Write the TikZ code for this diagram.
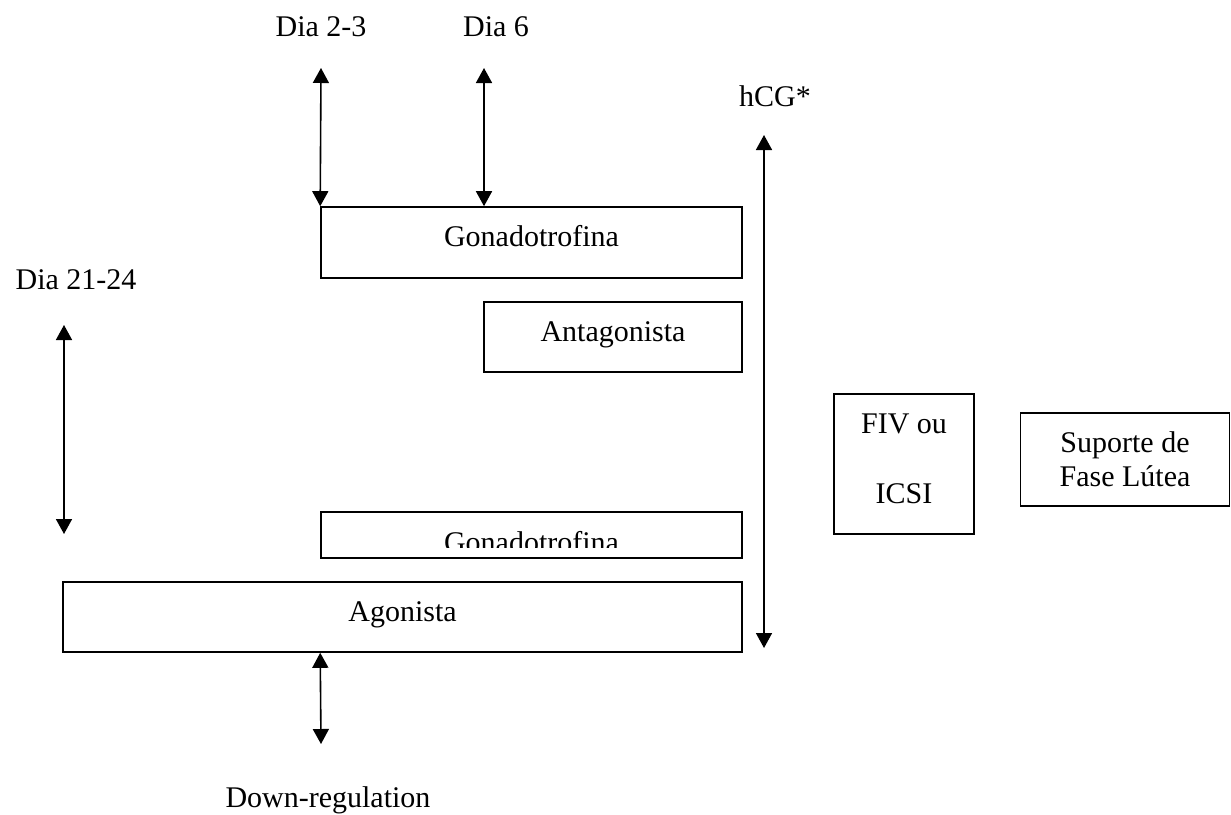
\documentclass[tikz,border=0pt]{standalone}
\usepackage{fontspec}
\setmainfont{Liberation Serif}
\usepackage{tikz}
\usetikzlibrary{positioning}
\usetikzlibrary{arrows.meta, calc}

\tikzset{
  caixa/.style={draw, line width=1.6pt, rectangle, inner sep=0pt},
  rotulo/.style={anchor=base, inner sep=0pt, font=\fontsize{30}{34.5}\selectfont},
  seta/.style={{Triangle[length=15pt,width=16pt]}-{Triangle[length=15pt,width=16pt]}, line width=1.6pt}
}

\begin{document}
\begin{tikzpicture}[x=1pt, y=-1pt]
    \useasboundingbox (0,0) rectangle (1231,814);

    % Caixas do esquema (em pixels, y para baixo)
    \node[caixa, minimum width=421pt, minimum height=71pt] (gon1) at (531.5,242.5) {};
    \node[caixa, minimum width=258pt, minimum height=70pt] (anta) at (613,337) {};
    \node[caixa, minimum width=421pt, minimum height=46pt] (gon2) at (531.5,535) {};
    \node[caixa, minimum width=679pt, minimum height=70pt] (agon) at (402.5,617) {};
    \node[caixa, minimum width=140pt, minimum height=140pt] (fiv) at (904,464) {};
    \node[caixa, minimum width=209pt, minimum height=93pt] (sup) at (1125,459.5) {};

    % Textos dentro das caixas
    \node[rotulo] (gon1txt) at ([yshift=-40pt]gon1.north) {Gonadotrofina};
    \node[rotulo] (antatxt) at ([yshift=-40pt]anta.north) {Antagonista};
    \node[rotulo] (agontxt) at ([yshift=-40pt]agon.north) {Agonista};
    \node[rotulo] (fivtxt) at ([yshift=-40pt]fiv.north) {FIV ou};
    \node[rotulo] (icsitxt) at ([yshift=-70pt]fivtxt.base) {ICSI};
    \node[rotulo] (suptxt) at ([yshift=-40pt]sup.north) {Suporte de};
    \node[rotulo] (fasetxt) at ([yshift=-34.5pt]suptxt.base) {Fase Lútea};

    % Texto cortado pela caixa baixa
    \begin{scope}
        \clip ([yshift=-9pt]gon2.north west) rectangle ([yshift=11pt]gon2.south east);
        \node[rotulo] (gon2txt) at ([yshift=-41pt]gon2.north) {Gonadotrofina};
    \end{scope}

    % Rotulos fora das caixas
    \node[rotulo] (dia23) at (321,36) {Dia 2-3};
    \node[rotulo] (dia6) at (496,36) {Dia 6};
    \node[rotulo] (hcg) at (775,106) {hCG*};
    \node[rotulo] (dia2124) at (76,289) {Dia 21-24};
    \node[rotulo] (downreg) at (328,807) {Down-regulation};

    % Pontas livres das setas
    \coordinate (p23) at (321,68);
    \coordinate (p6) at (484,68);
    \coordinate (hcgtop) at (764,135);
    \coordinate (hcgbot) at (764,648);
    \coordinate (esqtop) at (64,325);
    \coordinate (esqbot) at (64,534);
    \coordinate (dwnbot) at (321,744);

    % Setas duplas
    \draw[seta] (p23) -- (gon1.north west);
    \draw[seta] (p6) -- (p6 |- gon1.north);
    \draw[seta] (hcgtop) -- (hcgbot);
    \draw[seta] (esqtop) -- (esqbot);
    \draw[seta] (gon1.west |- agon.south) -- (dwnbot);
\end{tikzpicture}
\end{document}
